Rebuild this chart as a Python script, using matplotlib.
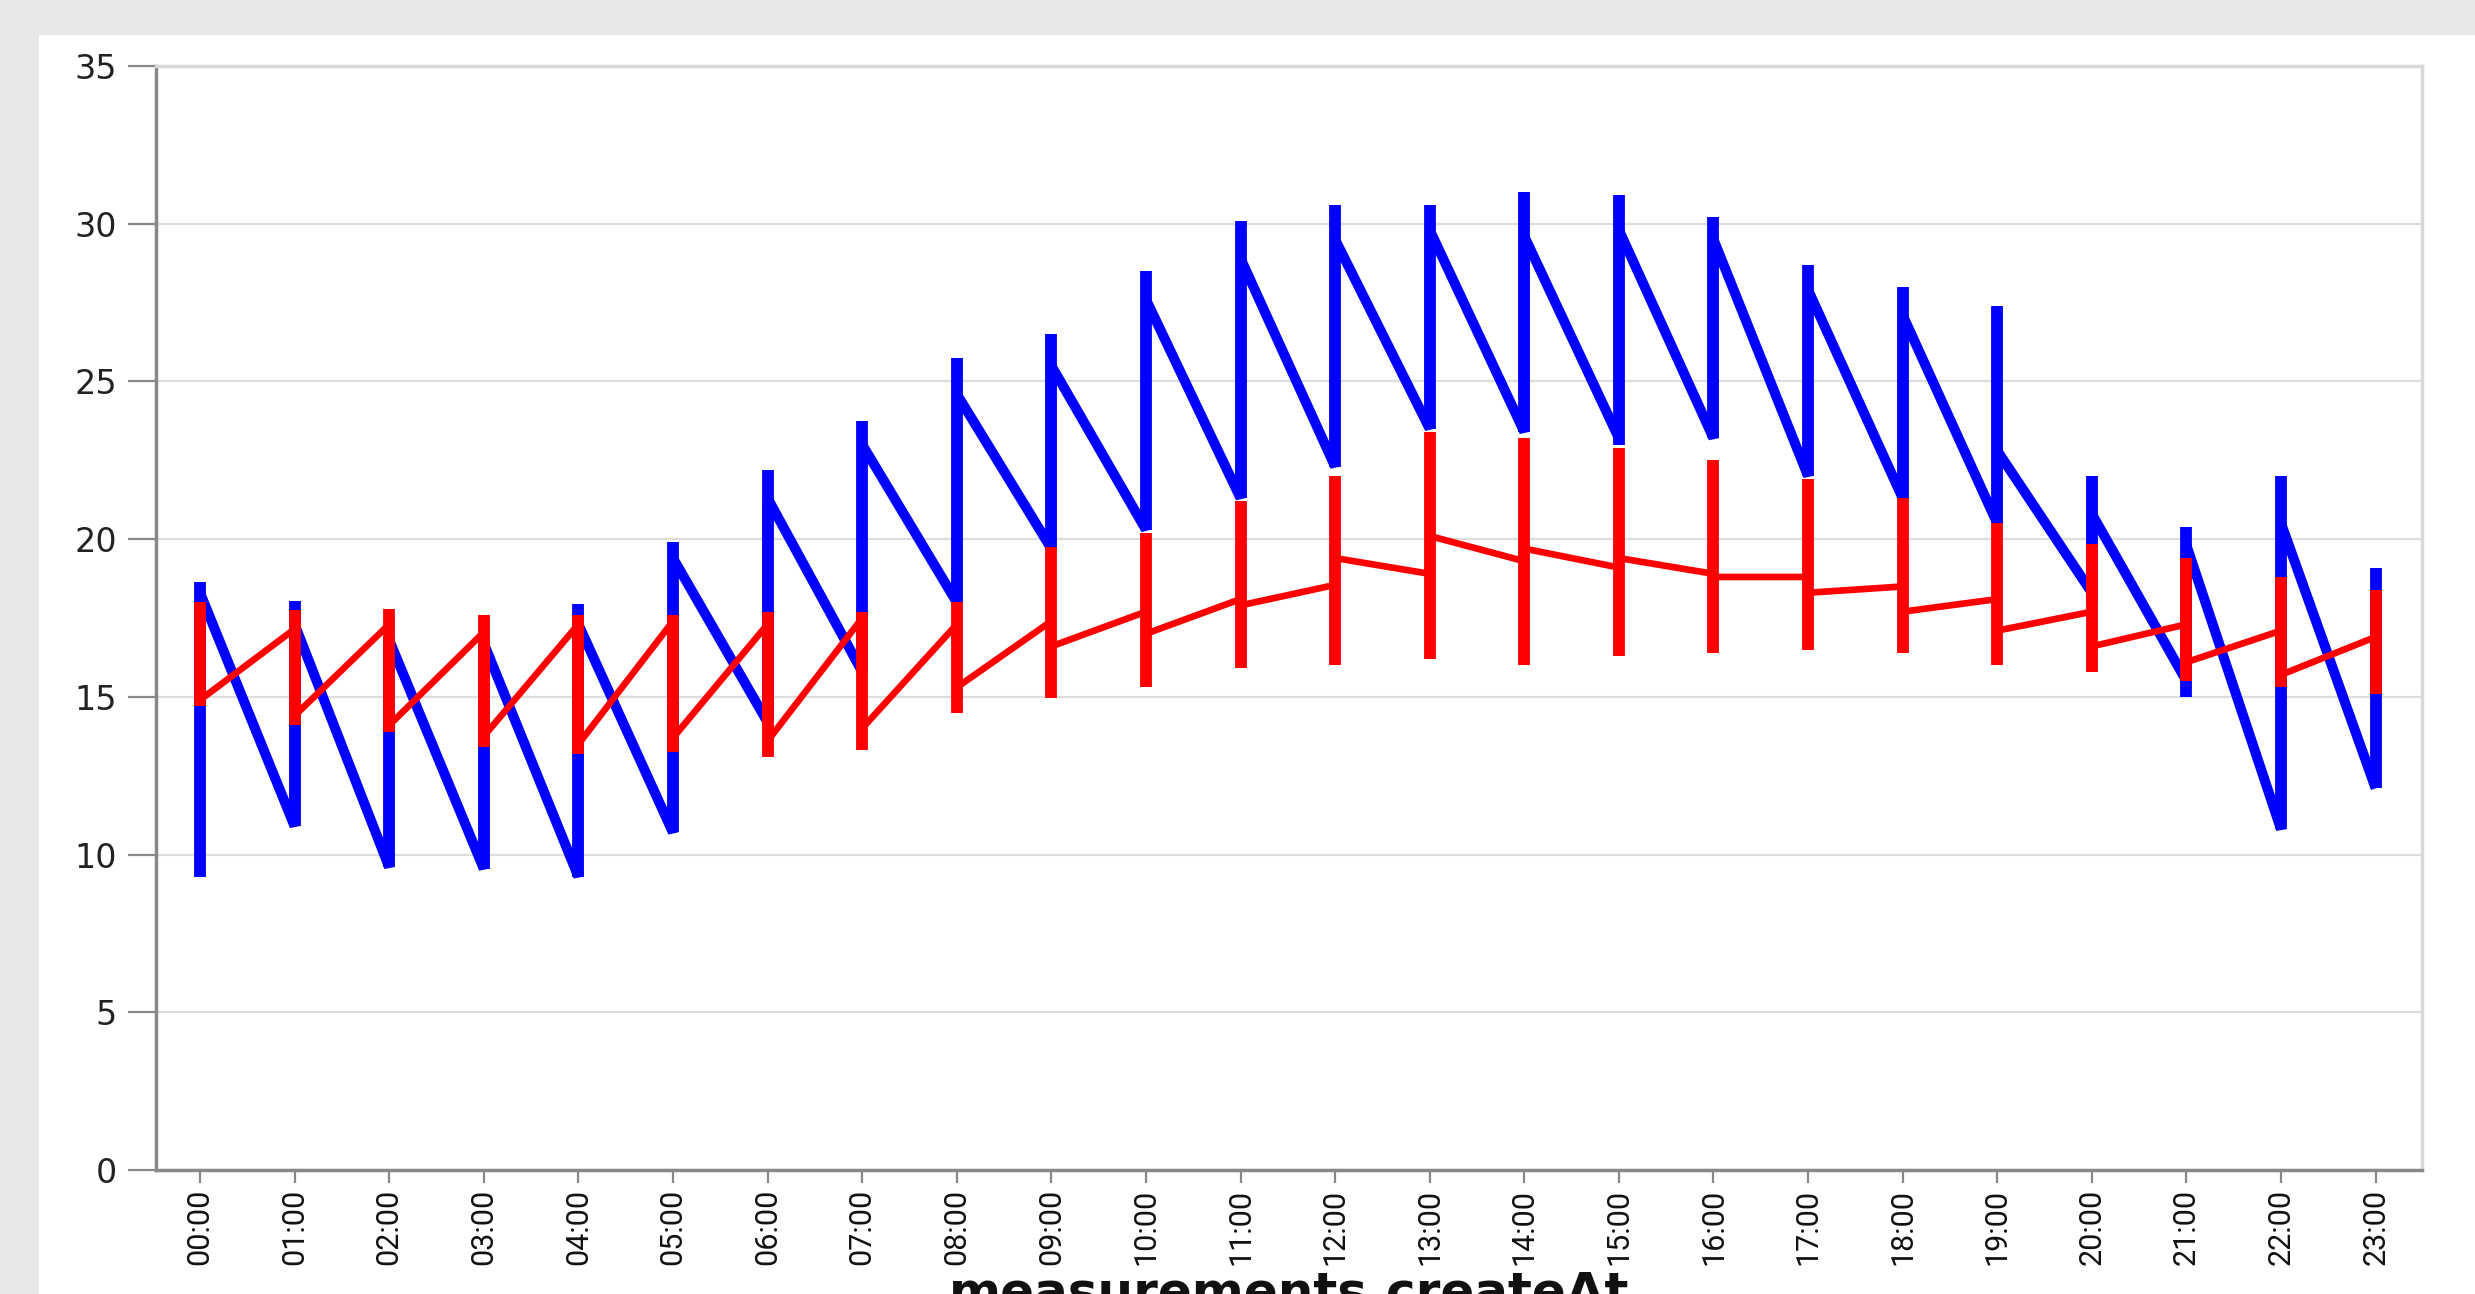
import matplotlib
matplotlib.use("Agg")
import matplotlib.pyplot as plt
from matplotlib.patches import Rectangle

hours = [f"{h:02d}:00" for h in range(24)]

# blue series: value where the line arrives at the hour, value where it leaves, vertical range
blue_in  = [9.3, 10.9, 9.6, 9.55, 9.3, 10.7, 14.2, 15.8, 18.0, 19.7, 20.3, 21.3,
            22.3, 23.5, 23.4, 23.2, 23.2, 22.0, 21.3, 20.5, 18.3, 15.5, 10.8, 12.1]
blue_out = [18.3, 17.3, 16.8, 16.7, 17.3, 19.4, 21.3, 23.0, 24.6, 25.5, 27.6, 28.9,
            29.5, 29.8, 29.6, 29.8, 29.5, 27.9, 27.1, 22.8, 20.8, 19.8, 20.5, 12.1]
blue_lo  = [9.3, 10.9, 9.6, 9.55, 9.3, 10.7, 14.2, 15.8, 18.0, 19.7, 20.3, 21.3,
            22.3, 23.5, 23.4, 23.0, 23.2, 22.0, 21.3, 20.5, 18.0, 15.0, 10.8, 12.1]
blue_hi  = [18.65, 18.05, 16.9, 16.8, 17.95, 19.9, 22.2, 23.75, 25.75, 26.5, 28.5, 30.1,
            30.6, 30.6, 31.0, 30.9, 30.2, 28.7, 28.0, 27.4, 22.0, 20.4, 22.0, 19.1]

# red series
red_in  = [18.0, 17.15, 17.3, 17.05, 17.3, 17.4, 17.3, 17.5, 17.3, 17.4, 17.7, 18.1,
           18.55, 18.9, 19.3, 19.1, 18.9, 18.8, 18.5, 18.1, 17.7, 17.3, 17.1, 16.9]
red_out = [14.9, 14.4, 14.1, 13.75, 13.5, 13.7, 13.6, 14.0, 15.3, 16.6, 17.0, 17.9,
           19.4, 20.1, 19.7, 19.4, 18.8, 18.3, 17.7, 17.1, 16.6, 16.1, 15.7, 16.9]
red_lo  = [14.7, 14.1, 13.9, 13.4, 13.2, 13.25, 13.1, 13.3, 14.5, 14.95, 15.3, 15.9,
           16.0, 16.2, 16.0, 16.3, 16.4, 16.5, 16.4, 16.0, 15.8, 15.5, 15.3, 15.1]
red_hi  = [18.0, 17.75, 17.8, 17.6, 17.6, 17.6, 17.7, 17.7, 18.0, 19.75, 20.2, 21.2,
           22.0, 23.4, 23.2, 22.9, 22.5, 21.9, 21.3, 20.5, 19.85, 19.4, 18.8, 18.4]

y_ticks = [0, 5, 10, 15, 20, 25, 30, 35]
x_label = "measurements.createAt"

W, H, DPI = 2475, 1294, 100
fig = plt.figure(figsize=(W / DPI, H / DPI), dpi=DPI, facecolor="#e8e8e8")
fig.patches.append(Rectangle((39 / W, 0), 1 - 39 / W, 1 - 35 / H, transform=fig.transFigure,
                             facecolor="white", edgecolor="none", zorder=-10))

ax = fig.add_axes([156 / W, 1 - 1170 / H, (2422 - 156) / W, (1170 - 66) / H])
ax.set_zorder(1)
ax.set_facecolor("white")


def path(vin, vout):
    xs, ys = [], []
    for i in range(len(vin)):
        xs += [i, i]
        ys += [vin[i], vout[i]]
    return xs, ys


x = list(range(len(hours)))
bx, by = path(blue_in, blue_out)
ax.plot(bx, by, color="#0000ff", lw=7.2, solid_joinstyle="bevel", solid_capstyle="butt", zorder=3)
ax.vlines(x, blue_lo, blue_hi, color="#0000ff", lw=8.5, zorder=3, capstyle="butt")

rx, ry = path(red_in, red_out)
ax.plot(rx, ry, color="#ff0000", lw=4.8, solid_joinstyle="bevel", solid_capstyle="butt", zorder=4)
ax.vlines(x, red_lo, red_hi, color="#ff0000", lw=8.5, zorder=4, capstyle="butt")

ax.set_xlim(-0.465, 23.49)
ax.set_ylim(0, 35)
ax.set_yticks(y_ticks)
ax.set_yticklabels([str(v) for v in y_ticks], fontsize=24, color="#222222",
                   family=["DejaVu Sans"])
ax.set_xticks(x)
ax.set_xticklabels(hours, rotation=90, fontsize=22, color="#111111",
                   family=["Liberation Sans Narrow", "Roboto", "DejaVu Sans"])

ax.grid(axis="y", color="#dddddd", lw=1.6, zorder=0)
ax.set_axisbelow(True)
ax.tick_params(axis="y", length=20, width=1.6, color="#888888", pad=8)
ax.tick_params(axis="x", length=9.5, width=1.6, color="#888888", pad=4)

for s in ["left", "bottom"]:
    ax.spines[s].set_color("#888888")
    ax.spines[s].set_linewidth(2.5)
for s in ["top", "right"]:
    ax.spines[s].set_color("#d8d8d8")
    ax.spines[s].set_linewidth(2.5)

fig.text((156 + 2422) / 2 / W, 1 - 1270 / H, x_label, ha="center", va="top",
         fontsize=36, fontweight="bold", color="#111111", family=["DejaVu Sans"])

fig.savefig("out.png", dpi=DPI, facecolor=fig.get_facecolor())
